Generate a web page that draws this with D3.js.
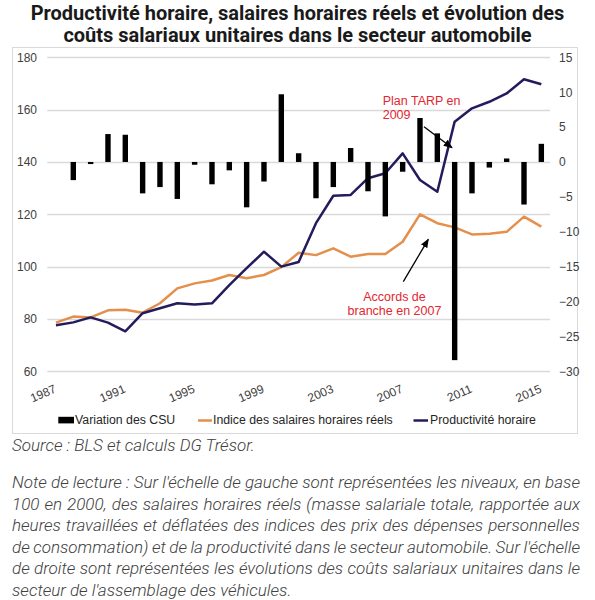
<!DOCTYPE html>
<html><head><meta charset="utf-8">
<script src="https://cdn.jsdelivr.net/npm/d3@7/dist/d3.min.js"></script>
<style>body{margin:0;background:#fff} svg{display:block}</style>
</head><body>
<svg id="c" width="595" height="600"></svg>
<script>
// ---- data ----
const years = [1987,1988,1989,1990,1991,1992,1993,1994,1995,1996,1997,1998,1999,2000,2001,2002,2003,2004,2005,2006,2007,2008,2009,2010,2011,2012,2013,2014,2015];
const csu = [null,-2.6,-0.3,4.0,3.9,-4.5,-3.6,-5.3,-0.4,-3.2,-1.2,-6.5,-2.8,9.7,1.25,-5.2,-3.6,2.0,-4.2,-7.8,-1.4,6.3,4.1,-28.4,-4.5,-0.8,0.5,-6.1,2.6];
const salaires = [78.6,80.9,80.6,83.3,83.5,82.4,86.0,91.7,93.6,94.7,96.8,95.6,96.8,99.8,105.3,104.4,107.0,103.8,104.8,104.8,109.5,120.0,116.6,115.0,112.3,112.6,113.3,119.1,115.3];
const productivite = [77.6,78.7,80.6,78.6,75.3,82.2,84.1,86.0,85.5,86.0,92.9,99.4,105.7,100.0,101.8,116.6,127.1,127.4,133.8,135.7,143.3,133.1,128.6,155.4,160.5,163.0,166.2,171.6,169.7];
const leftTicks = [60,80,100,120,140,160,180];
const rightTicks = [-30,-25,-20,-15,-10,-5,0,5,10,15];
const xLabels = [1987,1991,1995,1999,2003,2007,2011,2015];
const seriesNames = ["Variation des CSU","Indice des salaires horaires réels","Productivité horaire"];
const titleLines = ["Productivité horaire, salaires horaires réels et évolution des","coûts salariaux unitaires dans le secteur automobile"];
const sourceText = "Source : BLS et calculs DG Trésor.";
const noteLines = [
 "Note de lecture : Sur l'échelle de gauche sont représentées les niveaux, en base",
 "100 en 2000, des salaires horaires réels (masse salariale totale, rapportée aux",
 "heures travaillées et déflatées des indices des prix des dépenses personnelles",
 "de consommation) et de la productivité dans le secteur automobile. Sur l'échelle",
 "de droite sont représentées les évolutions des coûts salariaux unitaires dans le",
 "secteur de l'assemblage des véhicules."
];

// ---- styles ----
const ORANGE = "#E48F4C", NAVY = "#231C5C", RED = "#E3262F", GRID = "#D9D9D9";
const svg = d3.select("#c");

const x = d3.scalePoint().domain(years).range([47.3, 550]).padding(0.5);
const yL = d3.scaleLinear().domain([60,180]).range([371.3, 57.3]);
const yR = d3.scaleLinear().domain([-30,15]).range([371.3, 57.3]);

// title
svg.append("g").selectAll("text").data(titleLines).join("text")
  .attr("x", 297.5).attr("y", (d,i)=>19.5 + i*22.5)
  .attr("text-anchor","middle")
  .attr("font-family","Roboto, sans-serif").attr("font-weight","bold")
  .attr("font-size","20px").attr("fill","#1a1a1a").text(d=>d);

// frame
svg.append("rect").attr("x",12.5).attr("y",47.5).attr("width",565).attr("height",386)
  .attr("fill","none").attr("stroke","#D9D9D9").attr("stroke-width",1);

// grid
svg.append("g").selectAll("line").data(leftTicks).join("line")
  .attr("x1",47.3).attr("x2",550).attr("y1",d=>Math.round(yL(d))+0.5).attr("y2",d=>Math.round(yL(d))+0.5)
  .attr("stroke",GRID).attr("stroke-width",1.3);

// left axis
const axL = svg.append("g").attr("transform","translate(37,0)")
  .call(d3.axisLeft(yL).tickValues(leftTicks).tickSize(0).tickPadding(0));
axL.select(".domain").remove();
axL.selectAll("text").attr("font-family","'Liberation Sans', Arial, sans-serif").attr("font-size","12px").attr("fill","#404040");

// right axis
const axR = svg.append("g").attr("transform","translate(559,0)")
  .call(d3.axisRight(yR).tickValues(rightTicks).tickSize(0).tickPadding(0));
axR.select(".domain").remove();
axR.selectAll("text").attr("font-family","'Liberation Sans', Arial, sans-serif").attr("font-size","12px").attr("fill","#404040");

// x labels
svg.append("g").selectAll("text").data(xLabels).join("text")
  .attr("transform", d=>`translate(${x(d)+1},392) rotate(-23)`)
  .attr("text-anchor","end")
  .attr("font-family","'Liberation Sans', Arial, sans-serif").attr("font-size","12px").attr("fill","#404040")
  .text(d=>d);

// lines
const lineL = d3.line().defined(d=>d[1]!=null).x(d=>x(d[0])).y(d=>yL(d[1]));
svg.append("path").datum(years.map((y,i)=>[y,salaires[i]])).attr("d",lineL)
  .attr("fill","none").attr("stroke",ORANGE).attr("stroke-width",2.5).attr("stroke-linejoin","round");
svg.append("path").datum(years.map((y,i)=>[y,productivite[i]])).attr("d",lineL)
  .attr("fill","none").attr("stroke",NAVY).attr("stroke-width",2.5).attr("stroke-linejoin","round");

// bars
const bw = 5.4;
svg.append("g").selectAll("rect").data(years.map((y,i)=>[y,csu[i]]).filter(d=>d[1]!=null)).join("rect")
  .attr("x",d=>x(d[0])-bw/2).attr("width",bw)
  .attr("y",d=>Math.min(yR(0),yR(d[1]))).attr("height",d=>Math.abs(yR(d[1])-yR(0)))
  .attr("fill","#000");

// annotations
const defs = svg.append("defs");
defs.append("marker").attr("id","ah").attr("viewBox","0 0 10 10").attr("refX",9).attr("refY",5)
  .attr("markerWidth",7).attr("markerHeight",7).attr("orient","auto-start-reverse")
  .append("path").attr("d","M0,1 L10,5 L0,9 z").attr("fill","#000");
const annFont = "'Liberation Sans', Arial, sans-serif";
const a1 = svg.append("text").attr("font-family",annFont).attr("font-size","12.5px").attr("fill",RED);
a1.append("tspan").attr("x",382.7).attr("y",105).text("Plan TARP en");
a1.append("tspan").attr("x",382.7).attr("y",119).text("2009");
svg.append("line").attr("x1",424).attr("y1",126.7).attr("x2",452).attr("y2",147.7)
  .attr("stroke","#000").attr("stroke-width",1.3).attr("marker-end","url(#ah)");
const a2 = svg.append("text").attr("font-family",annFont).attr("font-size","12.5px").attr("fill",RED).attr("text-anchor","middle");
a2.append("tspan").attr("x",394.5).attr("y",301).text("Accords de");
a2.append("tspan").attr("x",394.5).attr("y",315).text("branche en 2007");
svg.append("line").attr("x1",403.3).attr("y1",281.7).attr("x2",428.3).attr("y2",239.3)
  .attr("stroke","#000").attr("stroke-width",1.3).attr("marker-end","url(#ah)");

// legend
const lg = svg.append("g").attr("font-family",annFont).attr("font-size","12.3px").attr("fill","#262626");
lg.append("rect").attr("x",58.3).attr("y",416.8).attr("width",15.7).attr("height",6.6).attr("fill","#000");
lg.append("text").attr("x",75).attr("y",424).text(seriesNames[0]);
lg.append("line").attr("x1",198).attr("x2",212).attr("y1",420.5).attr("y2",420.5).attr("stroke",ORANGE).attr("stroke-width",2.5);
lg.append("text").attr("x",213).attr("y",424).text(seriesNames[1]);
lg.append("line").attr("x1",413.5).attr("x2",428).attr("y1",420.5).attr("y2",420.5).attr("stroke",NAVY).attr("stroke-width",2.5);
lg.append("text").attr("x",430).attr("y",424).text(seriesNames[2]);

// source & note
const noteFont = "Roboto, sans-serif";
svg.append("text").attr("x",12).attr("y",451).attr("font-family",noteFont).attr("font-style","italic")
  .attr("font-weight",300).attr("font-size","17px").attr("fill","#404040").text(sourceText);
const nt = svg.append("g").attr("font-family",noteFont).attr("font-style","italic").attr("font-weight",300)
  .attr("font-size","17px").attr("fill","#404040");
noteLines.forEach((line,i)=>{
  const t = nt.append("text").attr("x",12).attr("y",488 + i*21.6).text(line);
  if (i < noteLines.length-1) {
    const len = t.node().getComputedTextLength();
    const spaces = (line.match(/ /g)||[]).length;
    const target = 580 - 12;
    if (spaces>0) t.attr("word-spacing", ((target-len)/spaces).toFixed(2)+"px");
  }
});
</script>
</body></html>
